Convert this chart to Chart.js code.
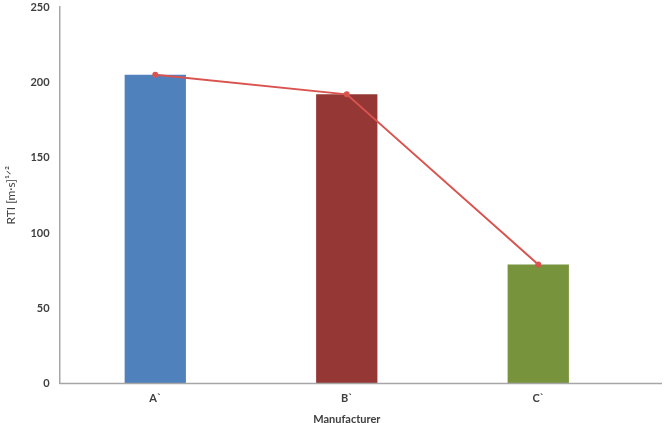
<!DOCTYPE html>
<html>
<head>
<meta charset="utf-8">
<script src="https://cdn.jsdelivr.net/npm/chart.js@4.4.0/dist/chart.umd.min.js"></script>
<style>
  html, body { margin: 0; padding: 0; background: #ffffff; }
  #wrap { width: 668px; height: 423px; }
</style>
</head>
<body>
<div id="wrap"><canvas id="rtiChart" width="668" height="423"></canvas></div>
<script>
// Data
const manufacturers = ['A`', 'B`', 'C`'];
const rtiValues = [205, 192, 79];
const trendValues = [205, 192, 79];
const barColors = ['#4f81bd', '#953735', '#77933c'];
const yTicks = [0, 50, 100, 150, 200, 250];

// Extends the category axis line to the right edge like the original
const axisLinePlugin = {
    id: 'axisLine',
    afterDraw: function(chart) {
        const ctx = chart.ctx;
        const area = chart.chartArea;
        ctx.save();
        ctx.strokeStyle = '#a6a6a6';
        ctx.lineWidth = 1.5;
        ctx.beginPath();
        ctx.moveTo(area.left, area.bottom);
        ctx.lineTo(chart.width - 6, area.bottom);
        ctx.stroke();
        ctx.restore();
    }
};

const ctx = document.getElementById('rtiChart');

new Chart(ctx, {
    data: {
        labels: manufacturers,
        datasets: [
            {
                type: 'line',
                data: trendValues,
                borderColor: '#d9534f',
                backgroundColor: '#d9534f',
                borderWidth: 2,
                pointRadius: 2,
                pointBackgroundColor: '#d9534f',
                tension: 0,
                order: 0
            },
            {
                type: 'bar',
                data: rtiValues,
                backgroundColor: barColors,
                borderWidth: 0,
                categoryPercentage: 1,
                barPercentage: 0.32,
                order: 1
            }
        ]
    },
    options: {
        responsive: false,
        animation: false,
        layout: {
            padding: { left: 4, right: 34, top: 0, bottom: -3 }
        },
        plugins: {
            legend: { display: false },
            tooltip: { enabled: false }
        },
        scales: {
            x: {
                grid: { display: false, drawTicks: false },
                border: { display: false },
                ticks: {
                    color: '#404040',
                    padding: 8,
                    font: { family: 'Lato', size: 11, weight: 'bold' }
                },
                title: {
                    display: true,
                    text: 'Manufacturer',
                    color: '#404040',
                    padding: { top: 0, bottom: 0 },
                    font: { family: 'Lato', size: 11, weight: 'bold' }
                }
            },
            y: {
                min: 0,
                max: 250,
                afterBuildTicks: function(axis) {
                    axis.ticks = yTicks.map(function(v) { return { value: v }; });
                },
                afterFit: function(axis) {
                    axis.paddingTop = 7;
                },
                grid: { display: false, drawTicks: false },
                border: { display: true, color: '#a6a6a6', width: 1.5 },
                ticks: {
                    color: '#404040',
                    padding: 10,
                    font: { family: 'Lato', size: 11, weight: 'bold' }
                },
                title: {
                    display: true,
                    text: 'RTI [m·s]¹ᐟ²',
                    color: '#404040',
                    padding: { top: 0, bottom: 2 },
                    font: { family: 'Lato', size: 12 }
                }
            }
        }
    },
    plugins: [axisLinePlugin]
});
</script>
</body>
</html>
